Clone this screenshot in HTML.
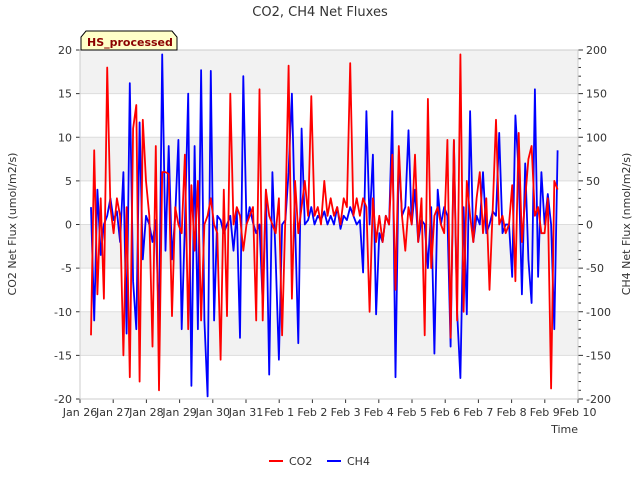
<!DOCTYPE html>
<html><head><meta charset="utf-8"><style>
body{margin:0;background:#fff;font-family:"Liberation Sans","DejaVu Sans",sans-serif}
svg text{font-family:"DejaVu Sans","Liberation Sans",sans-serif}
</style></head><body>
<svg id="chart" width="640" height="480" xmlns="http://www.w3.org/2000/svg">
<text x="320" y="16" font-size="13" text-anchor="middle" fill="#333">CO2, CH4 Net Fluxes</text>
<g id="bands"></g><g id="grid"></g><g id="axes"></g><g id="series"></g>
<rect x="80" y="50" width="498" height="349" fill="none" stroke="#ccc"/>
<g>
<path d="M81,50 L81,37 L86,31 L172,31 L177,37 L177,50 Z" fill="#ffffc8" stroke="#000" stroke-width="1"/>
<text x="87" y="46" font-size="11" font-weight="bold" fill="#8b0000">HS_processed</text></g>
<text x="16" y="224" font-size="11" fill="#333" text-anchor="middle" transform="rotate(-90 16 224)">CO2 Net Flux (umol/m2/s)</text>
<text x="630" y="224" font-size="11" fill="#333" text-anchor="middle" transform="rotate(-90 630 224)">CH4 Net Flux (nmol/m2/s)</text>
<text x="578" y="433" font-size="11" fill="#333" text-anchor="end">Time</text>
<g>
<g><line x1="269" y1="461" x2="283" y2="461" stroke="#f00" stroke-width="2"/><text x="289" y="465" font-size="11" fill="#333">CO2</text></g>
<g><line x1="327" y1="461" x2="341" y2="461" stroke="#00f" stroke-width="2"/><text x="347" y="465" font-size="11" fill="#333">CH4</text></g>
</g>
</svg>
<script>
const xLabels=["Jan 26","Jan 27","Jan 28","Jan 29","Jan 30","Jan 31","Feb 1","Feb 2","Feb 3","Feb 4","Feb 5","Feb 6","Feb 7","Feb 8","Feb 9","Feb 10"];
const leftTicks=[20,15,10,5,0,-5,-10,-15,-20];
const rightTicks=[200,150,100,50,0,-50,-100,-150,-200];
const startDay=0.33, stepDay=0.0976;
const co2=[-12.7,8.5,-8,3,-8.5,18,2,-1,3,1,
-15,2,-17.5,11,13.7,-18,12,5,1,-14,
9,-19,6,6,5.8,-10.5,2,0,-1,8,
-12,4.5,-3,5,-11,0,1,3,0,-1,
-15.5,4,-10.5,15,0,2,1,-3,0,1,
2,-11,15.5,-11,4,1,0,-1,3,-12.7,
1,18.2,-8.5,5,-1,2,5,1,14.7,1,
2,0,5,1,3,1,2,0,3,2,
18.5,1,3,1,3,2,-10,3,-2,1,
-2,1,0,8,-7.5,9,1,-3,2,0,
8,-2,3,-12.7,14.4,-5,1,2,0,-1,
9.7,-13,9.7,-11,19.5,-10,5,1,-2,3,
6,-1,3,-7.5,2,12,0,1,-1,0,
4.5,-6.5,10.5,-2,3,7.5,9,1,2,-1,
-1,3,-18.8,5,4];
const ch4=[20,-110,40,-35,0,10,30,5,15,-20,
60,-125,162,-65,-120,117,-40,10,0,-20,
5,-120,195,-30,90,-40,10,97,-120,0,
150,-185,90,-120,177,-110,-197,176,-110,10,
5,-10,0,10,-30,15,-130,170,0,20,
2,-10,0,-90,40,-172,60,-40,-155,0,
5,60,150,0,-136,110,0,5,20,0,
10,5,15,0,10,0,20,-5,10,5,
20,10,0,5,-55,130,0,80,-103,-10,
-20,10,0,130,-175,80,10,20,108,0,
40,-20,5,0,-50,20,-148,40,0,20,
10,-140,96,-100,-176,20,-103,130,-20,10,
0,60,-10,0,15,10,105,-10,0,0,
-60,125,60,-80,70,-40,-90,155,-60,60,
0,35,0,-120,85];
const X0=80,X1=578,Y0=50,Y1=399;
const xs=d=>X0+(d/15)*(X1-X0);
const yl=v=>Y0+(20-v)/40*(Y1-Y0);
const yr=v=>Y0+(200-v)/400*(Y1-Y0);
const NS="http://www.w3.org/2000/svg";
function mk(p,tag,at){const e=document.createElementNS(NS,tag);for(const k in at)e.setAttribute(k,at[k]);p.appendChild(e);return e;}
const bands=document.getElementById('bands'),grid=document.getElementById('grid'),axes=document.getElementById('axes'),ser=document.getElementById('series');
for(let i=0;i<8;i++){if(i%2===0){const r=mk(bands,'rect',{x:X0,y:yl(20-5*i),width:X1-X0,height:yl(15-5*i)-yl(20-5*i),fill:'#f2f2f2'});

}}
leftTicks.forEach(v=>{const y=yl(v);
const g=mk(grid,'line',{x1:X0,x2:X1,y1:y,y2:y,stroke:'#ddd'});


mk(axes,'line',{x1:X0-4,x2:X0,y1:y,y2:y,stroke:'#333'});
const t=mk(axes,'text',{x:X0-8,y:y+4,'font-size':11,'text-anchor':'end',fill:'#333'});t.textContent=v;

});
rightTicks.forEach(v=>{const y=yr(v);
mk(axes,'line',{x1:X1,x2:X1+5,y1:y,y2:y,stroke:'#333'});
const t=mk(axes,'text',{x:X1+8,y:y+4,'font-size':11,fill:'#333'});t.textContent=v;

});
for(let v=-200;v<=200;v+=10){if(v%50)mk(axes,'line',{x1:X1,x2:X1+3,y1:yr(v),y2:yr(v),stroke:'#333'});}
xLabels.forEach((l,i)=>{const x=xs(i);
mk(axes,'line',{x1:x,x2:x,y1:Y1,y2:Y1+4,stroke:'#333'});
const t=mk(axes,'text',{x:x,y:Y1+17,'font-size':11,'text-anchor':'middle',fill:'#333'});t.textContent=l;

});
function line(arr,sc,col,name){const pts=arr.map((v,i)=>xs(startDay+i*stepDay).toFixed(1)+','+sc(v).toFixed(1)).join(' ');
const p=mk(ser,'polyline',{points:pts,fill:'none',stroke:col,'stroke-width':1.8,'stroke-linejoin':'round'});

}
line(ch4,yr,'#0000ff','ch4-line');
line(co2,yl,'#ff0000','co2-line');
</script>
</body></html>
